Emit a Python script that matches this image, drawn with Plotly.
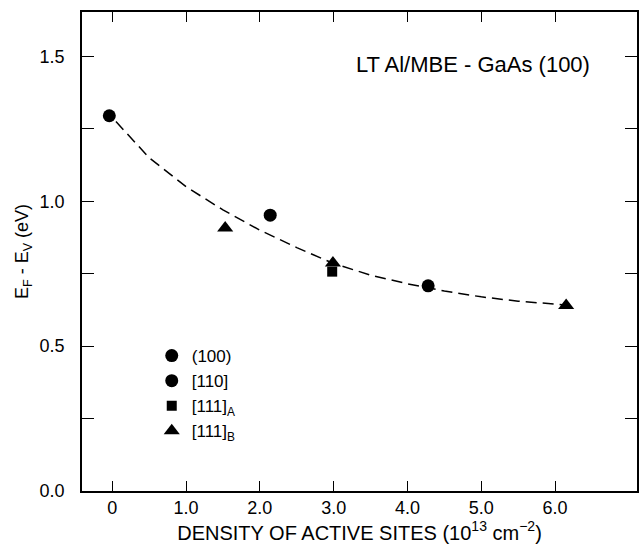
import plotly.graph_objects as go

# data
x_100 = [-0.04]
y_100 = [1.295]
x_110 = [2.14, 4.28]
y_110 = [0.952, 0.708]
x_111a = [2.98]
y_111a = [0.757]
x_111b = [1.53, 2.99, 6.15]
y_111b = [0.908, 0.787, 0.640]

curve_x = [0.05, 0.5, 1.0, 1.5, 2.0, 2.5, 3.0, 3.5, 4.0, 4.5, 5.0, 5.5, 6.0, 6.1]
curve_y = [1.275, 1.15, 1.05, 0.97, 0.90, 0.84, 0.785, 0.745, 0.715, 0.69, 0.67, 0.655, 0.645, 0.643]

x_tickvals = [0, 1, 2, 3, 4, 5, 6]
x_ticktext = ["0", "1.0", "2.0", "3.0", "4.0", "5.0", "6.0"]
y_tickvals = [0, 0.5, 1.0, 1.5]
y_ticktext = ["0.0", "0.5", "1.0", "1.5"]

FONT = "Liberation Sans, Arial, sans-serif"

fig = go.Figure()
fig.add_trace(go.Scatter(x=curve_x, y=curve_y, mode="lines",
                         line=dict(color="black", width=1.5, dash="11px,6px"),
                         showlegend=False, hoverinfo="skip"))
fig.add_trace(go.Scatter(x=x_100, y=y_100, mode="markers", name="(100)<sub> </sub>",
                         marker=dict(symbol="circle", size=13, color="black")))
fig.add_trace(go.Scatter(x=x_110, y=y_110, mode="markers", name="[110]<sub> </sub>",
                         marker=dict(symbol="circle", size=13, color="black")))
fig.add_trace(go.Scatter(x=x_111a, y=y_111a, mode="markers", name="[111]<sub>A</sub>",
                         marker=dict(symbol="square", size=10, color="black")))
fig.add_trace(go.Scatter(x=x_111b, y=y_111b, mode="markers", name="[111]<sub>B</sub>",
                         marker=dict(symbol="triangle-up", size=14, color="black")))

PL, PR, PT, PB = 82, 5, 12, 59
W, H = 644, 550

fig.update_layout(
    width=W, height=H,
    margin=dict(l=PL, r=PR, t=PT, b=PB),
    paper_bgcolor="white", plot_bgcolor="white",
    font=dict(family=FONT, size=17, color="black"),
    legend=dict(x=(152 - PL) / (W - PL - PR), y=(H - PB - 338) / (H - PB - PT),
                xanchor="left", yanchor="top",
                bgcolor="rgba(0,0,0,0)", font=dict(size=17), tracegroupgap=0,
                itemwidth=30),
    annotations=[dict(text="LT Al/MBE - GaAs (100)",
                      x=(594 - PL) / (W - PL - PR), y=(H - PB - 64) / (H - PB - PT),
                      xref="paper", yref="paper", showarrow=False,
                      xanchor="right", yanchor="middle",
                      font=dict(size=22, family=FONT))],
)

fig.update_xaxes(range=[-0.41, 7.11], tickvals=x_tickvals, ticktext=x_ticktext,
                 ticks="inside", ticklen=10, tickwidth=1.2, tickcolor="black",
                 showline=True, linecolor="black", linewidth=1.5, mirror="ticks",
                 showgrid=False, zeroline=False,
                 tickfont=dict(size=18),
                 title=dict(text="DENSITY OF ACTIVE SITES (10<sup>13</sup> cm<sup>−2</sup>)",
                            font=dict(size=20), standoff=4))
fig.update_yaxes(range=[0, 1.653], tickvals=y_tickvals, ticktext=y_ticktext,
                 ticks="inside", ticklen=12, tickwidth=1.2, tickcolor="black",
                 minor=dict(ticks="inside", ticklen=12, tickvals=[0.25, 0.75, 1.25],
                            tickcolor="black", tickwidth=1.2, showgrid=False),
                 showline=True, linecolor="black", linewidth=1.5, mirror="ticks",
                 showgrid=False, zeroline=False,
                 tickfont=dict(size=18), ticklabelstandoff=12,
                 title=dict(text="E<sub>F</sub> - E<sub>V</sub> (eV)",
                            font=dict(size=18), standoff=6))

fig.write_html("out.html")
